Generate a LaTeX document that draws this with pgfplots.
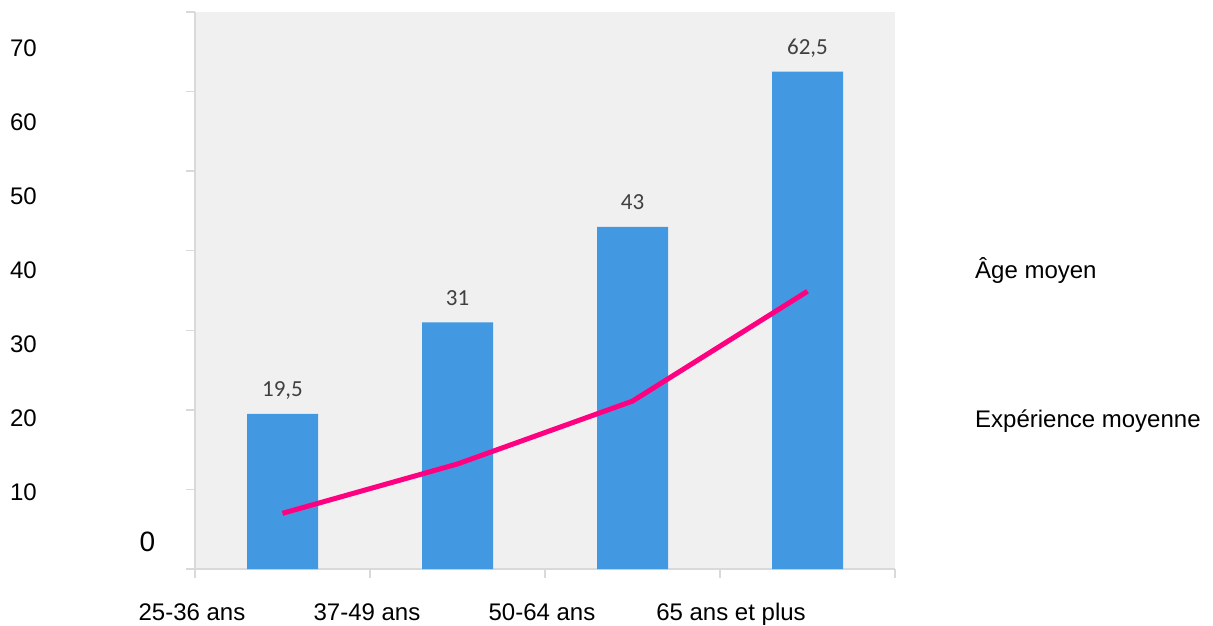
\documentclass[border=0pt]{standalone}
\usepackage{pgfplots}
\pgfplotsset{compat=1.18}
\usepackage{fontspec}
\setmainfont{Liberation Sans}
\newfontfamily\calibri{Carlito}
\definecolor{barblue}{HTML}{4299E1}
\definecolor{pinkline}{HTML}{FF0080}
\definecolor{plotbg}{HTML}{F0F0F0}
\definecolor{axisgray}{HTML}{D9D9D9}
\definecolor{lblgray}{HTML}{404040}
\begin{document}
\begin{tikzpicture}
\useasboundingbox (0,0) rectangle (1213pt,625pt);
\begin{axis}[
  at={(195pt,56pt)}, anchor=south west,
  scale only axis, width=700pt, height=557pt,
  xmin=0, xmax=4, ymin=0, ymax=70,
  axis background/.style={fill=plotbg},
  axis x line*=bottom, axis y line*=left,
  axis line style={draw=axisgray, line width=1.3pt},
  every tick/.style={draw=axisgray, line width=1.3pt},
  tick align=outside, major tick length=9pt,
  xtick={0,1,2,3,4},
  xticklabels={25-36 ans,37-49 ans,50-64 ans,,},
  extra x ticks={3.08},
  extra x tick labels={65 ans et plus},
  extra x tick style={major tick length=0pt, xticklabel style={yshift=-9pt}},
  xticklabel style={font=\fontsize{24}{28}\selectfont, anchor=base, xshift=-3pt, yshift=-42.5pt},
  ytick={0,10,...,70},
  yticklabels={},
  clip=false,
  /pgf/number format/use comma,
  /pgf/number format/assume math mode=true,
]
\addplot[ybar, bar width=71pt, fill=barblue, draw=none,
  nodes near coords,
  every node near coord/.append style={font=\calibri\fontsize{23}{27}\selectfont, text=lblgray, anchor=base, yshift=17pt, inner sep=0pt}]
  coordinates {(0.5,19.5) (1.5,31) (2.5,43) (3.5,62.5)};
\addplot[color=pinkline, line width=5pt, mark=none]
  coordinates {(0.5,7.0) (1.5,13.2) (2.5,21.1) (3.5,34.9)};
\end{axis}
\begin{scope}[every node/.style={font=\fontsize{24}{28}\selectfont, inner sep=0pt, anchor=east}]
\node at (37pt,576.5pt) {70};
\node at (37pt,502.5pt) {60};
\node at (37pt,428.5pt) {50};
\node at (37pt,354.5pt) {40};
\node at (37pt,280.5pt) {30};
\node at (37pt,206.5pt) {20};
\node at (37pt,132.5pt) {10};
\end{scope}
\node[font=\fontsize{28}{32}\selectfont, inner sep=0pt] at (147.5pt,83pt) {0};
\node[font=\fontsize{24}{28}\selectfont, inner sep=0pt, anchor=base west] at (975pt,347pt) {Âge moyen};
\node[font=\fontsize{24}{28}\selectfont, inner sep=0pt, anchor=base west] at (975pt,198pt) {Expérience moyenne};
\end{tikzpicture}
\end{document}
